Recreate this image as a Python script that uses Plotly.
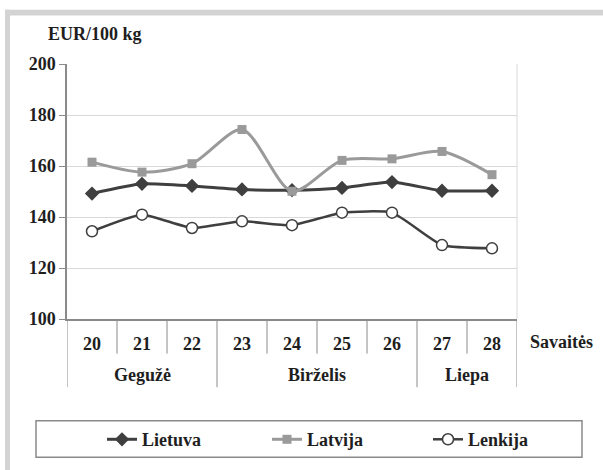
import plotly.graph_objects as go

weeks = ["20", "21", "22", "23", "24", "25", "26", "27", "28"]
months = ["Gegužė", "Birželis", "Liepa"]
month_weeks = [3, 4, 2]
lietuva = [149.2, 153.0, 152.2, 150.8, 150.5, 151.4, 153.7, 150.3, 150.3]
latvija = [161.5, 157.6, 160.9, 174.3, 150.1, 162.2, 162.8, 165.7, 156.6]
lenkija = [134.4, 140.9, 135.7, 138.3, 136.8, 141.7, 141.7, 129.0, 127.7]
y_title = "EUR/100 kg"
x_title = "Savaitės"

W, H = 603, 470
ML, MR, MT, MB = 67, 86, 64, 148
PW, PH = W - ML - MR, H - MT - MB
TXT = "#1e1e1e"
AX = "#8a8a8a"
GRID = "#d9d9d9"


def px(x):
    return (x - ML) / PW


def py(y):
    return 1 - (y - MT) / PH


def fnt():
    return dict(family="Liberation Serif", size=18, color=TXT, weight="bold")


fig = go.Figure()
fig.add_trace(go.Scatter(
    x=weeks, y=lietuva, name="Lietuva", mode="lines+markers", legend="legend",
    line=dict(color="#3f3f3f", width=3, shape="spline", smoothing=0.5),
    marker=dict(symbol="diamond", size=11, color="#3f3f3f")))
fig.add_trace(go.Scatter(
    x=weeks, y=latvija, name="Latvija", mode="lines+markers", legend="legend2",
    line=dict(color="#9a9a9a", width=3, shape="spline", smoothing=0.8),
    marker=dict(symbol="square", size=9, color="#9a9a9a")))
fig.add_trace(go.Scatter(
    x=weeks, y=lenkija, name="Lenkija", mode="lines+markers", legend="legend3",
    line=dict(color="#3f3f3f", width=2.5, shape="spline", smoothing=0.5),
    marker=dict(symbol="circle", size=11, color="white",
                line=dict(color="#3f3f3f", width=1.5))))

shapes = []
# outer grey frame (top and left bands)
shapes.append(dict(type="rect", xref="paper", yref="paper",
                   x0=px(5), x1=px(W + 5), y0=py(15), y1=py(9),
                   fillcolor="#d3d3d3", line=dict(width=0), layer="below"))
shapes.append(dict(type="rect", xref="paper", yref="paper",
                   x0=px(5), x1=px(10), y0=py(H + 5), y1=py(9),
                   fillcolor="#d3d3d3", line=dict(width=0), layer="below"))
# right border of plot area
shapes.append(dict(type="line", xref="paper", yref="paper",
                   x0=1, x1=1, y0=0, y1=1, line=dict(color=GRID, width=1)))
# category dividers below axis
pos = -0.5
group_bounds = [pos]
for n in month_weeks:
    pos += n
    group_bounds.append(pos)
for i in range(len(weeks) + 1):
    b = i - 0.5
    y_end = py(391) if b in group_bounds else py(357)
    shapes.append(dict(type="line", xref="x", yref="paper",
                       x0=b, x1=b, y0=0, y1=y_end,
                       line=dict(color=AX, width=1)))
# legend box
shapes.append(dict(type="rect", xref="paper", yref="paper",
                   x0=px(36), x1=px(582), y0=py(462), y1=py(425),
                   line=dict(color="#8a8a8a", width=1.5), fillcolor="rgba(0,0,0,0)"))

annotations = []
for i, m in enumerate(months):
    center = (group_bounds[i] + group_bounds[i + 1]) / 2
    annotations.append(dict(text=m, x=center, xref="x", y=py(379), yref="paper",
                            showarrow=False, xanchor="center", yanchor="middle",
                            font=fnt()))
annotations.append(dict(text=y_title, x=px(46), xref="paper", y=py(34), yref="paper",
                        showarrow=False, xanchor="left", yanchor="middle", font=fnt()))
annotations.append(dict(text=x_title, x=px(528), xref="paper", y=py(345), yref="paper",
                        showarrow=False, xanchor="left", yanchor="middle", font=fnt()))


def leg(xpx):
    return dict(orientation="h", x=px(xpx), xanchor="left", y=py(444), yanchor="middle",
                font=fnt(), bgcolor="rgba(0,0,0,0)", borderwidth=0)


fig.update_layout(
    width=W, height=H,
    margin=dict(l=ML, r=MR, t=MT, b=MB),
    paper_bgcolor="white", plot_bgcolor="white",
    font=fnt(),
    shapes=shapes, annotations=annotations,
    showlegend=True,
    legend=leg(102), legend2=leg(267), legend3=leg(428),
    xaxis=dict(type="category", range=[-0.5, len(weeks) - 0.5], showgrid=False,
               showline=True, linecolor=AX, linewidth=1.5, ticks="",
               ticklabelstandoff=8, tickfont=fnt(), fixedrange=True),
    yaxis=dict(range=[100, 200], dtick=20, showgrid=True, gridcolor=GRID, gridwidth=1,
               showline=True, linecolor=AX, linewidth=1.5, ticks="outside",
               ticklen=6, tickcolor=AX, zeroline=False, tickfont=fnt(),
               fixedrange=True),
)

fig.write_html("out.html", post_script="document.body.style.margin='0';",
               config={"displayModeBar": False})
